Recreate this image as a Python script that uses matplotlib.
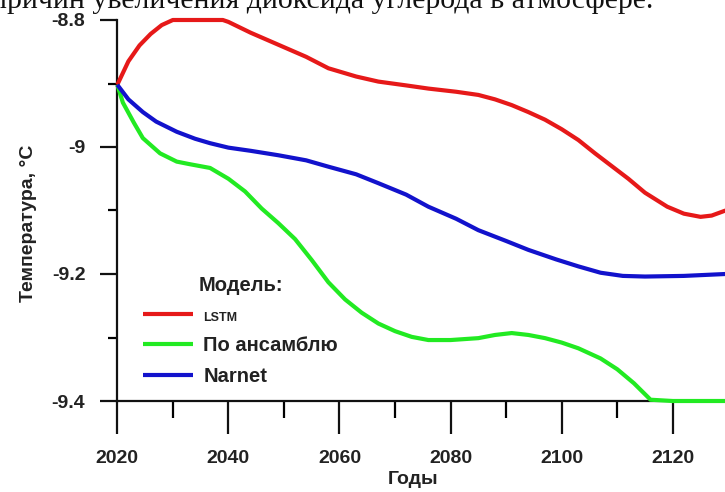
import matplotlib
matplotlib.use("Agg")
import matplotlib.pyplot as plt
from matplotlib.ticker import MultipleLocator, FuncFormatter

plt.rcParams["font.family"] = ["Liberation Sans", "DejaVu Sans"]
plt.rcParams["axes.unicode_minus"] = False

# values
lstm_years = [2020, 2022, 2024, 2026, 2028, 2030, 2039, 2040, 2044, 2049, 2054,
              2058, 2063, 2067, 2072, 2076, 2081, 2085, 2088, 2091, 2094, 2097,
              2100, 2103, 2106, 2109, 2112, 2115, 2119, 2122, 2125, 2127, 2129.5]
lstm_temp = [-8.902, -8.865, -8.84, -8.822, -8.808, -8.80, -8.80, -8.803, -8.82,
             -8.839, -8.858, -8.876, -8.889, -8.897, -8.903, -8.908, -8.913,
             -8.918, -8.925, -8.934, -8.945, -8.957, -8.972, -8.989, -9.01,
             -9.03, -9.05, -9.072, -9.094, -9.105, -9.11, -9.108, -9.10]

ens_years = [2020, 2021, 2023, 2024.6, 2027.7, 2030.7, 2033, 2036.7, 2040, 2043,
             2046, 2049, 2052, 2055, 2058, 2061, 2064, 2067, 2070, 2073, 2076,
             2080, 2085, 2088, 2091, 2094, 2097, 2100, 2103, 2107, 2110, 2113,
             2116, 2120, 2129.5]
ens_temp = [-8.902, -8.93, -8.962, -8.986, -9.01, -9.023, -9.027, -9.033, -9.05,
            -9.07, -9.097, -9.12, -9.145, -9.178, -9.213, -9.24, -9.261, -9.278,
            -9.29, -9.299, -9.304, -9.304, -9.301, -9.296, -9.293, -9.296,
            -9.301, -9.308, -9.317, -9.333, -9.35, -9.372, -9.398, -9.4, -9.4]

narnet_years = [2020, 2022, 2024.6, 2027, 2030.7, 2034, 2036.7, 2040, 2044, 2049,
                2054, 2058, 2063, 2067, 2072, 2076, 2081, 2085, 2090, 2094, 2099,
                2103, 2107, 2111, 2115, 2122, 2129.5]
narnet_temp = [-8.902, -8.925, -8.945, -8.96, -8.976, -8.987, -8.994, -9.001,
               -9.006, -9.013, -9.021, -9.031, -9.043, -9.057, -9.075, -9.094,
               -9.113, -9.131, -9.148, -9.162, -9.177, -9.188, -9.198, -9.203,
               -9.204, -9.203, -9.2]

series_labels = ["LSTM", "По ансамблю", "Narnet"]
series_colors = ["#e61919", "#22ea22", "#1212cc"]
y_ticks = [-9.4, -9.2, -9.0, -8.8]

fig = plt.figure(figsize=(7.25, 4.92), dpi=100)
ax = fig.add_axes([117.3 / 725, 91 / 492, 607.7 / 725, 381 / 492])

for xs, ys, lab, col in zip([lstm_years, ens_years, narnet_years],
                            [lstm_temp, ens_temp, narnet_temp],
                            series_labels, series_colors):
    ax.plot(xs, ys, color=col, lw=3, label=lab, clip_on=False,
            solid_capstyle="butt", zorder=3)

ax.set_xlim(2020, 2129.4)
ax.set_ylim(-9.4, -8.8)

for s in ("top", "right"):
    ax.spines[s].set_visible(False)
for s in ("left", "bottom"):
    ax.spines[s].set_linewidth(1.6)
    ax.spines[s].set_color("#111111")

ax.xaxis.set_major_locator(MultipleLocator(20))
ax.xaxis.set_minor_locator(MultipleLocator(10))
ax.set_yticks(y_ticks)
ax.yaxis.set_minor_locator(MultipleLocator(0.1))
ax.yaxis.set_major_formatter(FuncFormatter(lambda v, p: f"{v:g}"))

ax.tick_params(axis="x", which="major", length=24, width=1.6, pad=11,
               labelsize=14, colors="#111111")
ax.tick_params(axis="x", which="minor", length=12, width=1.6)
ax.tick_params(axis="y", which="major", length=12, width=1.6, pad=11,
               labelsize=14, colors="#111111")
ax.tick_params(axis="y", which="minor", length=6.5, width=1.6)
for lbl in ax.get_xticklabels() + ax.get_yticklabels():
    lbl.set_fontweight("bold")
    lbl.set_color("#222222")

ax.set_xlabel("Годы", fontsize=14, fontweight="bold", color="#222222")
ax.xaxis.set_label_coords(0.487, -0.185)
ax.set_ylabel("Температура, °C", fontsize=14, fontweight="bold", color="#222222")
ax.yaxis.set_label_coords(-0.132, 0.467)

# negative borderpad pulls the title closer to the first row
leg = ax.legend(loc="upper left", bbox_to_anchor=(137 / 725, 1 - 270 / 492),
                bbox_transform=fig.transFigure, frameon=False,
                title="Модель:", fontsize=14.5, handlelength=2.5,
                handletextpad=0.5, labelspacing=0.6, borderpad=-0.2)
leg.get_title().set_fontsize(14.5)
leg.get_title().set_fontweight("bold")
leg.get_title().set_color("#222222")
for t in leg.get_texts():
    t.set_fontweight("bold")
    t.set_color("#222222")
leg.get_texts()[0].set_fontsize(9)

fig.text(-0.012, 1 - 8 / 492,
         "причин увеличения диоксида углерода в атмосфере.",
         family=["Liberation Serif", "DejaVu Serif"], fontsize=21.5,
         va="baseline", ha="left", color="#111111")

fig.savefig("out.png", dpi=100)
